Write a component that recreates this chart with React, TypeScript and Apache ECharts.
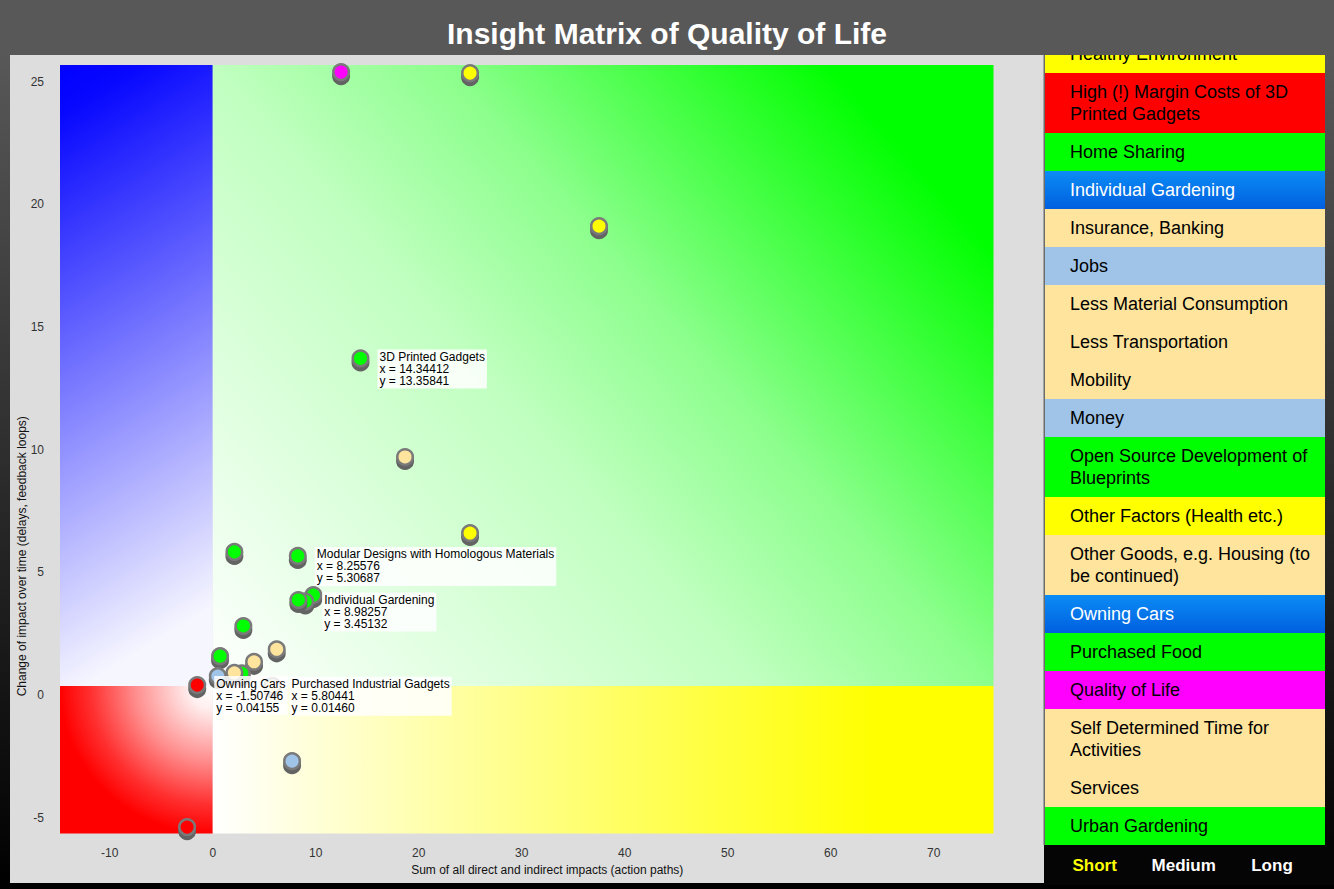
import React, { useEffect, useRef } from 'react';
import * as echarts from 'echarts';

// ---------- data ----------
const chartTitle = 'Insight Matrix of Quality of Life';
const xAxisName = 'Sum of all direct and indirect impacts (action paths)';
const yAxisName = 'Change of impact over time (delays, feedback loops)';

const xRange = [-14.83, 75.8];
const yRange = [-6.01, 25.32];
const splitX = 0;
const splitY = 0;

const pointNames = [
  'Quality of Life',
  'Other Factors (Health etc.)',
  'Healthy Environment',
  '3D Printed Gadgets',
  'Self Determined Time for Activities',
  'Insurance, Banking',
  'Home Sharing',
  'Modular Designs with Homologous Materials',
  'Urban Gardening',
  'Individual Gardening',
  'Open Source Development of Blueprints',
  'Purchased Food',
  'Services',
  'Less Material Consumption',
  'Less Transportation',
  'Purchased Industrial Gadgets',
  'Jobs',
  'Other Goods, e.g. Housing (to be continued)',
  'Mobility',
  'Owning Cars',
  'Money',
  'High (!) Margin Costs of 3D Printed Gadgets',
];
const pointX = [12.46, 24.98, 37.5, 14.34412, 18.67, 24.98, 2.1, 8.25576, 9.77, 8.98257, 8.31, 2.97, 6.21, 4.01, 0.71, 5.80441, 0.49, 2.82, 2.1, -1.50746, 7.7, -2.49];
const pointY = [25.03, 24.99, 18.75, 13.35841, 9.34, 6.24, 5.47, 5.30687, 3.71, 3.45132, 3.51, 2.45, 1.5, 0.99, 1.22, 0.0146, 0.41, 0.52, 0.54, 0.04155, -3.06, -5.75];
const pointColors = [
  '#ff00ff', '#ffff00', '#ffff00', '#00ff00', '#fee49c', '#ffff00', '#00ff00', '#00ff00', '#00ff00', '#00ff00', '#00ff00',
  '#00ff00', '#fee49c', '#fee49c', '#00ff00', '#fee49c', '#9fc4e7', '#00ff00', '#fee49c', '#ff0000', '#9fc4e7', '#ff0000',
];
const labeledPoints = [
  '3D Printed Gadgets',
  'Modular Designs with Homologous Materials',
  'Individual Gardening',
  'Owning Cars',
  'Purchased Industrial Gadgets',
];

const legendItems = [
  'Healthy Environment',
  'High (!) Margin Costs of 3D\nPrinted Gadgets',
  'Home Sharing',
  'Individual Gardening',
  'Insurance, Banking',
  'Jobs',
  'Less Material Consumption',
  'Less Transportation',
  'Mobility',
  'Money',
  'Open Source Development of\nBlueprints',
  'Other Factors (Health etc.)',
  'Other Goods, e.g. Housing (to\nbe continued)',
  'Owning Cars',
  'Purchased Food',
  'Quality of Life',
  'Self Determined Time for\nActivities',
  'Services',
  'Urban Gardening',
];
const legendColors = [
  '#ffff00', '#ff0000', '#00ff00', '#0071ea', '#fee49c', '#9fc4e7', '#fee49c', '#fee49c', '#fee49c', '#9fc4e7',
  '#00ff00', '#ffff00', '#fee49c', '#0071ea', '#00ff00', '#ff00ff', '#fee49c', '#fee49c', '#00ff00',
];
const selectedItems = ['Individual Gardening', 'Owning Cars'];
const tabLabels = ['Short', 'Medium', 'Long'];
const activeTab = 'Short';

// ---------- helpers ----------
const lin = (x: number, y: number, x2: number, y2: number, stops: [number, string][]) =>
  new echarts.graphic.LinearGradient(x, y, x2, y2, stops.map(([offset, color]) => ({ offset, color })));
const rad = (x: number, y: number, r: number, stops: [number, string][]) =>
  new echarts.graphic.RadialGradient(x, y, r, stops.map(([offset, color]) => ({ offset, color })));

function buildOption() {
  const W = 1334;
  const H = 889;
  const elements: any[] = [];

  // page background
  elements.push({
    type: 'rect', z: 0, silent: true,
    shape: { x: 0, y: 0, width: W, height: H },
    style: { fill: lin(0, 0, 0, 1, [[0, '#585858'], [0.062, '#585858'], [1, '#000000']]) },
  });
  // plot panel
  elements.push({
    type: 'rect', z: 1, silent: true,
    shape: { x: 10, y: 55, width: 1034, height: 828 },
    style: { fill: '#dddddd' },
  });
  // legend separator line
  elements.push({
    type: 'rect', z: 1, silent: true,
    shape: { x: 1043.5, y: 55, width: 1.5, height: 790 },
    style: { fill: '#6c6c6c' },
  });

  // legend list (scrolled)
  const selGrad = lin(0, 0, 0, 1, [[0, '#0b8cf5'], [1, '#005fdf']]);
  let ry = 35;
  legendItems.forEach((t, i) => {
    const lines = t.split('\n').length;
    const h = 38 + (lines - 1) * 22;
    const sel = selectedItems.includes(t.replace('\n', ' '));
    elements.push({
      type: 'rect', z: 2, silent: true,
      shape: { x: 1045, y: ry, width: 280, height: h },
      style: { fill: sel ? selGrad : legendColors[i] },
    });
    elements.push({
      type: 'text', z: 3, silent: true,
      x: 1070, y: ry + h / 2,
      style: {
        text: t, fill: sel ? '#ffffff' : '#000000',
        fontSize: 18, fontFamily: '"Liberation Sans", Arial, sans-serif', lineHeight: 22,
        align: 'left', textAlign: 'left', verticalAlign: 'middle', textVerticalAlign: 'middle',
      },
    });
    ry += h;
  });

  // tab bar
  elements.push({
    type: 'rect', z: 2, silent: true,
    shape: { x: 1044, y: 845, width: 290, height: 40 },
    style: { fill: '#050505' },
  });
  const tabCenters = [1094.7, 1183.7, 1272];
  tabLabels.forEach((t, i) => {
    elements.push({
      type: 'text', z: 3, silent: true,
      x: tabCenters[i], y: 865,
      style: {
        text: t, fill: t === activeTab ? '#ffff00' : '#ffffff',
        fontSize: 17, fontWeight: 'bold', fontFamily: '"Liberation Sans", Arial, sans-serif',
        align: 'center', textAlign: 'center', verticalAlign: 'middle', textVerticalAlign: 'middle',
      },
    });
  });

  // header band (clips the scrolled legend)
  elements.push({
    type: 'rect', z: 4, silent: true,
    shape: { x: 0, y: 0, width: W, height: 55 },
    style: { fill: '#585858' },
  });

  const quadrants = [
    // top-left: blue
    [
      { xAxis: xRange[0], yAxis: splitY, itemStyle: { color: lin(0, 0, 0.15, 1, [[0, '#0000ff'], [0.08, '#0808ff'], [1, '#f6f6ff']]), opacity: 1 } },
      { xAxis: splitX, yAxis: yRange[1] },
    ],
    // top-right: green
    [
      { xAxis: splitX, yAxis: splitY, itemStyle: { color: lin(0, 1, 1, 0.3, [[0, '#ffffff'], [0.47, '#c0ffc0'], [0.67, '#8cff8c'], [1, '#00ff00']]), opacity: 1 } },
      { xAxis: xRange[1], yAxis: yRange[1] },
    ],
    // bottom-left: red
    [
      { xAxis: xRange[0], yAxis: yRange[0], itemStyle: { color: rad(1, 0, 1, [[0, '#ffffff'], [0.15, '#fff0f0'], [0.5, '#ff9090'], [0.8, '#ff3030'], [1, '#ff0000']]), opacity: 1 } },
      { xAxis: splitX, yAxis: splitY },
    ],
    // bottom-right: yellow
    [
      { xAxis: splitX, yAxis: yRange[0], itemStyle: { color: lin(0, 0.5, 1, 0.5, [[0, '#ffffff'], [0.85, '#ffff00'], [1, '#ffff00']]), opacity: 1 } },
      { xAxis: xRange[1], yAxis: splitY },
    ],
  ];

  const labelFont = '"Liberation Sans", Arial, sans-serif';

  return {
    animation: false,
    graphic: { elements },
    title: {
      text: chartTitle,
      left: 'center',
      top: 13,
      z: 10,
      textStyle: { color: '#ffffff', fontSize: 30, fontWeight: 'bold', fontFamily: labelFont },
    },
    grid: { left: 60, right: 340.5, top: 65, bottom: 55.5, show: false, containLabel: false, outerBoundsMode: 'none' },
    xAxis: {
      type: 'value', min: xRange[0], max: xRange[1], splitNumber: 9, z: 8,
      axisLine: { show: false }, axisTick: { show: false }, splitLine: { show: false },
      axisLabel: { showMinLabel: false, showMaxLabel: false, color: '#333333', fontSize: 12, fontFamily: labelFont, margin: 13 },
      name: xAxisName, nameLocation: 'middle', nameGap: 30, nameMoveOverlap: false,
      nameTextStyle: { color: '#111111', fontSize: 12, fontFamily: labelFont, padding: [0, 0, 0, 41] },
    },
    yAxis: {
      type: 'value', min: yRange[0], max: yRange[1], splitNumber: 6, z: 8,
      axisLine: { show: false }, axisTick: { show: false }, splitLine: { show: false },
      axisLabel: {
        showMinLabel: false, showMaxLabel: false, color: '#333333', fontSize: 12, fontFamily: labelFont, margin: 16,
        verticalAlign: 'top', padding: [3, 0, 0, 0],
      },
      name: yAxisName, nameLocation: 'middle', nameGap: 32, nameMoveOverlap: false,
      nameTextStyle: { color: '#111111', fontSize: 12, fontFamily: labelFont, padding: [0, 214, 0, 0] },
    },
    series: [
      {
        type: 'scatter', name: 'quadrants', data: [], z: 5, silent: true,
        markArea: { silent: true, label: { show: false }, data: quadrants },
      },
      {
        type: 'scatter', name: 'factors', z: 6, silent: true,
        symbolSize: 15.5,
        itemStyle: { borderColor: '#7a7a7a', borderWidth: 2.5, shadowColor: '#636363', shadowOffsetY: 4, shadowBlur: 0, opacity: 1 },
        label: {
          show: false, position: 'right', distance: 8, offset: [0, 10.5],
          formatter: (p: any) => `${p.name}\nx = ${p.value[0].toFixed(5)}\ny = ${p.value[1].toFixed(5)}`,
          color: '#000000', fontSize: 12, lineHeight: 12, fontFamily: labelFont,
          backgroundColor: 'rgba(255,255,255,0.86)', padding: [2, 2, 1, 2], align: 'left',
        },
        emphasis: { disabled: true },
        data: pointNames.map((n, i) => ({
          name: n,
          value: [pointX[i], pointY[i]],
          itemStyle: { color: pointColors[i] },
          label: { show: labeledPoints.includes(n) },
        })),
      },
    ],
  };
}

export default function App() {
  const ref = useRef<HTMLDivElement>(null);
  useEffect(() => {
    if (!ref.current) return;
    const chart = echarts.init(ref.current, undefined, { renderer: 'svg' });
    chart.setOption(buildOption() as any);
    return () => chart.dispose();
  }, []);
  return (
    <div
      ref={ref}
      style={{ position: 'absolute', left: 0, top: 0, width: 1334, height: 889 }}
    />
  );
}
